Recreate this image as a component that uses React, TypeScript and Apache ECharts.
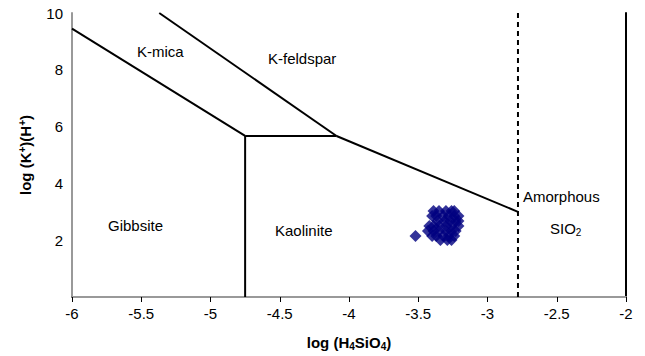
import React, { useEffect, useRef } from "react";
import * as echarts from "echarts";

// Sample points: log(H4SiO4), log(K+)/(H+)
const sampleSiO4 = [
  -3.39, -3.35, -3.30, -3.26, -3.24,
  -3.40, -3.37, -3.32, -3.28, -3.24, -3.21,
  -3.36, -3.31, -3.27, -3.23, -3.21,
  -3.42, -3.39, -3.35, -3.30, -3.26, -3.21,
  -3.43, -3.39, -3.35, -3.30, -3.26, -3.23,
  -3.40, -3.37, -3.32, -3.28, -3.24,
  -3.34, -3.29, -3.26,
  -3.52,
];
const sampleK = [
  3.03, 3.03, 3.03, 3.03, 3.03,
  2.85, 2.85, 2.85, 2.85, 2.85, 2.85,
  2.68, 2.68, 2.68, 2.68, 2.68,
  2.50, 2.50, 2.50, 2.50, 2.50, 2.50,
  2.32, 2.32, 2.32, 2.32, 2.32, 2.32,
  2.15, 2.15, 2.15, 2.15, 2.15,
  2.01, 2.01, 2.01,
  2.15,
];

// Stability field boundaries
const gibbsiteKmica = [[-6, 9.45], [-4.75, 5.67]];
const kmicaKaolinite = [[-4.75, 5.67], [-4.09, 5.67]];
const kmicaKfeldspar = [[-5.37, 10], [-4.09, 5.67]];
const kaoliniteKfeldspar = [[-4.09, 5.67], [-2.78, 3.0]];
const gibbsiteKaolinite = [[-4.75, 0], [-4.75, 5.67]];
const amorphousSilica = [[-2.78, 0], [-2.78, 10]];

const xTicks = [-6, -5.5, -5, -4.5, -4, -3.5, -3, -2.5, -2];
const yTicks = [0, 2, 4, 6, 8, 10];

const FONT = "'Liberation Sans', Arial, sans-serif";

export default function App() {
  const ref = useRef<HTMLDivElement>(null);
  useEffect(() => {
    document.body.style.margin = "0";
    if (!ref.current) return;
    const chart = echarts.init(ref.current, undefined, { renderer: "svg" });
    const points = sampleSiO4.map((x, i) => [x, sampleK[i]]);
    const lineSeries = (data: number[][], dashed = false) => ({
      type: "line",
      data,
      showSymbol: false,
      symbol: "none",
      lineStyle: { color: "#000", width: 2, type: dashed ? [5, 4] : "solid" },
      silent: true,
      z: 3,
    });
    const txt = (left: number, top: number, text: string) => ({
      type: "text",
      left,
      top,
      style: { text, font: `15px ${FONT}`, fill: "#000" },
    });
    chart.setOption({
      animation: false,
      textStyle: { fontFamily: FONT },
      grid: { left: 72, right: 19, top: 13, bottom: 59 },
      xAxis: [
        {
          type: "value",
          min: xTicks[0],
          max: xTicks[xTicks.length - 1],
          interval: 0.5,
          name: "log (H{sub|4}SiO{sub|4})",
          nameLocation: "middle",
          nameGap: 37,
          nameTextStyle: {
            fontSize: 15,
            fontWeight: "bold",
            color: "#000",
            fontFamily: FONT,
            rich: {
              sub: { fontSize: 10, fontWeight: "bold", verticalAlign: "bottom", padding: [7, 0, 0, 0] },
            },
          },
          axisLine: { onZero: false, lineStyle: { color: "#000", width: 2 } },
          axisTick: { show: true, length: 5, lineStyle: { color: "#000", width: 1 } },
          axisLabel: { fontSize: 15, color: "#000", margin: 9, fontFamily: FONT },
          splitLine: { show: false },
        },
        {
          type: "value",
          position: "top",
          min: -6,
          max: -2,
          axisLine: { show: true, lineStyle: { color: "#999", width: 2 } },
          axisTick: { show: false },
          axisLabel: { show: false },
          splitLine: { show: false },
        },
      ],
      yAxis: [
        {
          type: "value",
          min: yTicks[0],
          max: yTicks[yTicks.length - 1],
          interval: 2,
          name: "log (K{sup|+})(H{sup|+})",
          nameLocation: "middle",
          nameGap: 38,
          nameTextStyle: {
            fontSize: 15,
            fontWeight: "bold",
            color: "#000",
            fontFamily: FONT,
            rich: {
              sup: { fontSize: 10, fontWeight: "bold", verticalAlign: "top", padding: [0, 0, 7, 0] },
            },
          },
          axisLine: { show: true, lineStyle: { color: "#999", width: 2 } },
          axisTick: { show: false },
          axisLabel: {
            fontSize: 15,
            color: "#000",
            margin: 9,
            fontFamily: FONT,
            formatter: (v: number) => (v === 0 ? "" : String(v)),
          },
          splitLine: { show: false },
        },
        {
          type: "value",
          position: "right",
          min: 0,
          max: 10,
          axisLine: { show: true, lineStyle: { color: "#000", width: 2 } },
          axisTick: { show: false },
          axisLabel: { show: false },
          splitLine: { show: false },
        },
      ],
      series: [
        lineSeries(gibbsiteKmica),
        lineSeries(kmicaKaolinite),
        lineSeries(kmicaKfeldspar),
        lineSeries(kaoliniteKfeldspar),
        lineSeries(gibbsiteKaolinite),
        lineSeries(amorphousSilica, true),
        {
          type: "scatter",
          data: points,
          symbol: "diamond",
          symbolSize: 12,
          itemStyle: { color: "#000080" },
          z: 4,
        },
      ],
      graphic: [
        txt(137, 44, "K-mica"),
        txt(268, 51, "K-feldspar"),
        txt(108, 218, "Gibbsite"),
        txt(275, 223, "Kaolinite"),
        txt(523, 189, "Amorphous"),
        {
          type: "text",
          left: 550,
          top: 221,
          style: {
            text: "SIO{sub|2}",
            font: `15px ${FONT}`,
            fill: "#000",
            rich: { sub: { fontSize: 10, verticalAlign: "bottom", padding: [7, 0, 0, 0] } },
          },
        },
      ],
    });
    return () => chart.dispose();
  }, []);
  return <div ref={ref} style={{ width: 645, height: 356 }} />;
}
